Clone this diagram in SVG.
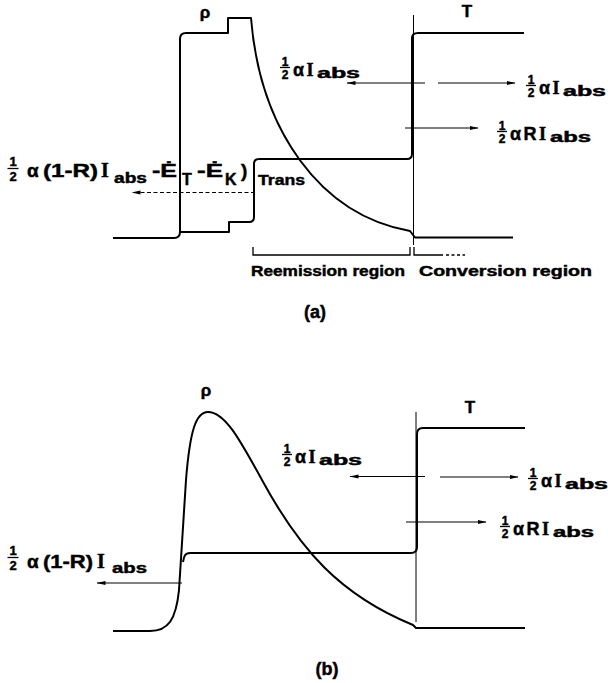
<svg xmlns="http://www.w3.org/2000/svg" width="608" height="683" viewBox="0 0 608 683">
<style>
.curve{fill:none;stroke:#000;stroke-width:2;stroke-linejoin:round;stroke-linecap:butt}
.thin{fill:none;stroke:#000;stroke-width:1}
.br{fill:none;stroke:#000;stroke-width:1.3}
.arr{fill:none;stroke:#000;stroke-width:1;marker-end:url(#ah)}
.dash{stroke-dasharray:4,2.5}
.bar{stroke:#000;stroke-width:1.3}
text{font-family:"Liberation Sans",Arial,Helvetica,sans-serif;font-weight:bold;fill:#000;stroke:#000;stroke-width:0.45}
.serif{font-family:"Liberation Serif","Times New Roman",serif}
.fr{font-size:12px;text-anchor:middle}
.frL{font-size:13px;text-anchor:middle}
.m{font-size:18px}
.sub{font-size:14px}
.L{font-size:19px}
.Ls{font-size:15px}
.ttl{font-size:17px;text-anchor:middle}
.reg{font-size:14.5px}
</style>
<defs>
<marker id="ah" markerWidth="10" markerHeight="6" refX="8.5" refY="3" orient="auto" markerUnits="userSpaceOnUse">
<path d="M0,0.9 L9,3 L0,5.1 z" fill="#000"/>
</marker>
</defs>

<g id="panel-a">
  <g id="a-curves">
    <path id="a-rho" class="curve" d="M113,238 L174,238 Q180,238 180,232 L180,39 Q180,33 186,33 L228,33 L228,18 L251,18 C260,130 320,215 410,231 L415,237.5 L513,237.5"/>
    <path id="a-T" class="curve" d="M180,232 L229,232 L229,222 L249,222 Q254,222 254,217 L254,164 Q254,159 259,159 L407,159 Q412,159 412,154 L412,38 Q412,33 418,33 L524,33"/>
    <line class="thin" x1="413.5" y1="15" x2="413.5" y2="245"/>
  </g>
  <g id="a-brackets">
    <path class="br" d="M253,247 L253,255 L410,255 L410,247"/>
    <path class="br" d="M414,247 L414,255 L443,255"/>
    <path class="br" d="M446,255 L465,255" stroke-dasharray="3,2.5"/>
  </g>
  <g id="a-arrows">
    <line class="arr" x1="425" y1="83" x2="347" y2="83"/>
    <line class="arr" x1="438" y1="83" x2="515" y2="83"/>
    <line class="arr" x1="405" y1="128" x2="478" y2="128"/>
    <line class="arr dash" x1="255" y1="192.5" x2="132" y2="192.5"/>
  </g>
  <g id="a-labels">
    <text class="ttl" x="205" y="18">ρ</text>
    <text class="ttl" x="467" y="17">T</text>
    <g id="a-lbl-mid" transform="translate(280,76)">
      <text class="fr" x="5" y="-10.5">1</text>
      <line class="bar" x1="0" y1="-8.5" x2="10" y2="-8.5"/>
      <text class="fr" x="5" y="3">2</text>
      <text class="m" x="13" y="0">α</text>
      <text class="m serif" x="26.5" y="0">I</text>
      <text class="sub" x="37" y="2" textLength="43" lengthAdjust="spacingAndGlyphs">abs</text>
    </g>
    <g id="a-lbl-right" transform="translate(526,94)">
      <text class="fr" x="5" y="-10.5">1</text>
      <line class="bar" x1="0" y1="-8.5" x2="10" y2="-8.5"/>
      <text class="fr" x="5" y="3">2</text>
      <text class="m" x="13" y="0">α</text>
      <text class="m serif" x="26.5" y="0">I</text>
      <text class="sub" x="37" y="2" textLength="43" lengthAdjust="spacingAndGlyphs">abs</text>
    </g>
    <g id="a-lbl-RI" transform="translate(497,140)">
      <text class="fr" x="5" y="-10.5">1</text>
      <line class="bar" x1="0" y1="-8.5" x2="10" y2="-8.5"/>
      <text class="fr" x="5" y="3">2</text>
      <text class="m" x="13" y="0">α</text>
      <text class="m" x="26.5" y="0">R</text>
      <text class="m serif" x="42" y="0">I</text>
      <text class="sub" x="53" y="2" textLength="41" lengthAdjust="spacingAndGlyphs">abs</text>
    </g>
    <g id="a-lbl-left">
      <text class="frL" x="13" y="165.5">1</text>
      <line class="bar" x1="7.5" y1="168.5" x2="18.5" y2="168.5"/>
      <text class="frL" x="13" y="181">2</text>
      <text class="L" x="27" y="177">α</text>
      <text class="L" x="43" y="177" textLength="55" lengthAdjust="spacingAndGlyphs">(1-R)</text>
      <text class="L serif" x="101" y="177" style="font-size:20px">I</text>
      <text class="Ls" x="114" y="183" textLength="33" lengthAdjust="spacingAndGlyphs">abs</text>
      <text class="L" x="152" y="177" textLength="25" lengthAdjust="spacingAndGlyphs">-Ė</text>
      <text class="Ls" x="182" y="185" style="font-size:16px">T</text>
      <text class="L" x="197" y="177" textLength="26" lengthAdjust="spacingAndGlyphs">-Ė</text>
      <text class="Ls" x="225" y="185" style="font-size:16px">K</text>
      <text class="L" x="241" y="177">)</text>
      <text class="Ls" x="258" y="185" textLength="47" lengthAdjust="spacingAndGlyphs">Trans</text>
    </g>
    <text class="reg" x="251" y="276" textLength="154" lengthAdjust="spacingAndGlyphs">Reemission region</text>
    <text class="reg" x="419" y="276" textLength="173" lengthAdjust="spacingAndGlyphs">Conversion region</text>
    <text class="ttl" x="315" y="318" style="font-size:18px">(a)</text>
  </g>
</g>

<g id="panel-b">
  <g id="b-curves">
    <path id="b-rho" class="curve" d="M113,631 L150,631 C168,631 176,620 179,590 L186,480 C190,430 196,412 208,412 C225,412 240,440 262,480 C300,550 340,595 413,625 L416,628 L525,628"/>
    <path id="b-T" class="curve" d="M183,562 C184,556 185,553 190,553 L411,553 Q417,553 417,547 L417,434 Q417,428 423,428 L525,428"/>
    <line class="thin" x1="416" y1="412" x2="416" y2="622"/>
  </g>
  <g id="b-arrows">
    <line class="arr" x1="425" y1="476.5" x2="350" y2="476.5"/>
    <line class="arr" x1="440" y1="477" x2="518" y2="477"/>
    <line class="arr" x1="406" y1="522" x2="486" y2="522"/>
    <line class="arr" x1="182" y1="583" x2="97" y2="583"/>
  </g>
  <g id="b-labels">
    <text class="ttl" x="206" y="396">ρ</text>
    <text class="ttl" x="470" y="413">T</text>
    <g id="b-lbl-mid" transform="translate(282,463)">
      <text class="fr" x="5" y="-10.5">1</text>
      <line class="bar" x1="0" y1="-8.5" x2="10" y2="-8.5"/>
      <text class="fr" x="5" y="3">2</text>
      <text class="m" x="13" y="0">α</text>
      <text class="m serif" x="26.5" y="0">I</text>
      <text class="sub" x="37" y="2" textLength="43" lengthAdjust="spacingAndGlyphs">abs</text>
    </g>
    <g id="b-lbl-right" transform="translate(528,487)">
      <text class="fr" x="5" y="-10.5">1</text>
      <line class="bar" x1="0" y1="-8.5" x2="10" y2="-8.5"/>
      <text class="fr" x="5" y="3">2</text>
      <text class="m" x="13" y="0">α</text>
      <text class="m serif" x="26.5" y="0">I</text>
      <text class="sub" x="37" y="2" textLength="43" lengthAdjust="spacingAndGlyphs">abs</text>
    </g>
    <g id="b-lbl-RI" transform="translate(500,535)">
      <text class="fr" x="5" y="-10.5">1</text>
      <line class="bar" x1="0" y1="-8.5" x2="10" y2="-8.5"/>
      <text class="fr" x="5" y="3">2</text>
      <text class="m" x="13" y="0">α</text>
      <text class="m" x="26.5" y="0">R</text>
      <text class="m serif" x="42" y="0">I</text>
      <text class="sub" x="53" y="2" textLength="41" lengthAdjust="spacingAndGlyphs">abs</text>
    </g>
    <g id="b-lbl-left">
      <text class="frL" x="13" y="554.5">1</text>
      <line class="bar" x1="7.5" y1="557.5" x2="18.5" y2="557.5"/>
      <text class="frL" x="13" y="570">2</text>
      <text class="L" x="27" y="568">α</text>
      <text class="L" x="43" y="568" textLength="50" lengthAdjust="spacingAndGlyphs">(1-R)</text>
      <text class="L serif" x="97" y="568" style="font-size:20px">I</text>
      <text class="Ls" x="112" y="573" textLength="35" lengthAdjust="spacingAndGlyphs">abs</text>
    </g>
    <text class="ttl" x="327" y="675" style="font-size:18px">(b)</text>
  </g>
</g>
</svg>
